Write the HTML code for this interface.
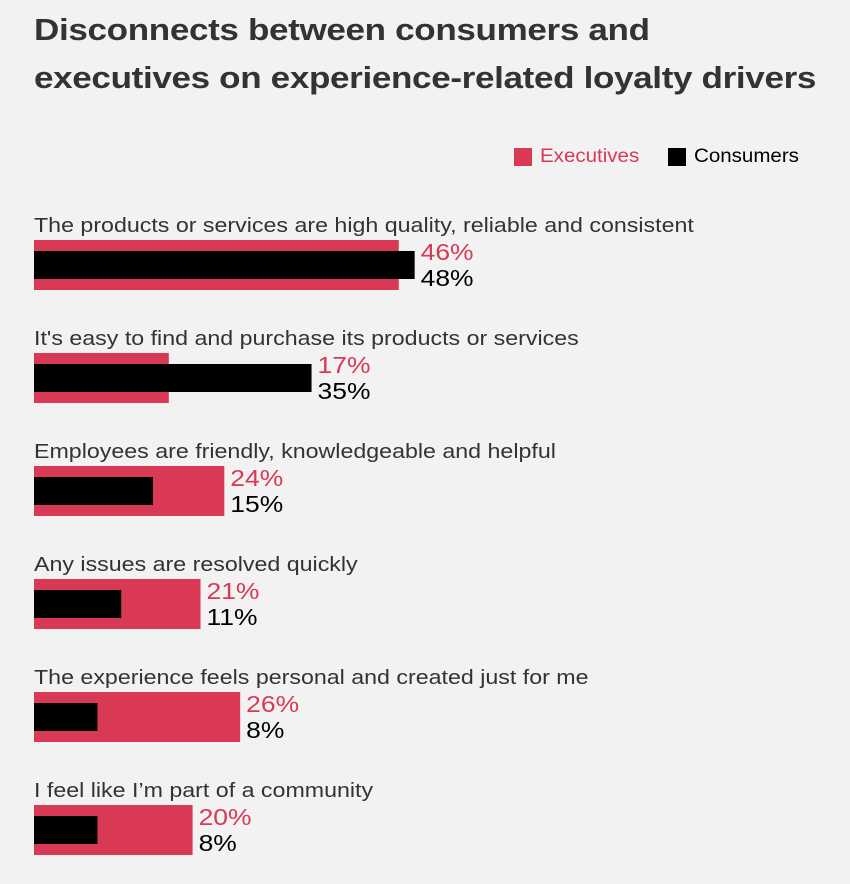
<!DOCTYPE html>
<html><head><meta charset="utf-8"><style>
body{margin:0;background:#f2f2f2;font-family:"Liberation Sans",Arial,sans-serif;}
#wrap{position:relative;width:850px;height:884px;overflow:hidden;background:#f2f2f2}
h1{position:absolute;left:34px;top:6px;margin:0;font-size:31px;line-height:48px;font-weight:bold;color:#333;letter-spacing:-0.3px;transform:scaleX(1.13);transform-origin:0 0;white-space:nowrap}
.leg{position:absolute;top:146px;font-size:19px;display:flex;align-items:center;white-space:nowrap}
.sw{width:18px;height:18px;display:inline-block;margin-right:8px}
.lt{display:inline-block;transform:scaleX(1.08);transform-origin:0 50%}
</style></head><body>
<div id="wrap">
<h1>Disconnects between consumers and<br>executives on experience-related loyalty drivers</h1>
<div class="leg" style="left:514px;color:#d93954"><span class="sw" style="background:#d93954"></span><span class="lt">Executives</span></div>
<div class="leg" style="left:668px;color:#000"><span class="sw" style="background:#000"></span><span class="lt">Consumers</span></div>
<svg id="svg" width="850" height="884" style="position:absolute;left:0;top:0"></svg>
</div>
<script>
const categories=["The products or services are high quality, reliable and consistent","It's easy to find and purchase its products or services","Employees are friendly, knowledgeable and helpful","Any issues are resolved quickly","The experience feels personal and created just for me","I feel like I\u2019m part of a community"];
const executives=[46,17,24,21,26,20];
const consumers=[48,35,15,11,8,8];
const NS="http://www.w3.org/2000/svg";
const svg=document.getElementById('svg');
const x0=34, pxPer=7.93;
function xs(v){return v*pxPer;}
function rowY(i){return 240+i*113;}
function mk(tag,attrs){const e=document.createElementNS(NS,tag);for(const k in attrs)e.setAttribute(k,attrs[k]);svg.appendChild(e);return e;}
function stretch(t,f){const w=t.getComputedTextLength();t.setAttribute('textLength',w*f);t.setAttribute('lengthAdjust','spacingAndGlyphs');}
categories.forEach((c,i)=>{
  const y=rowY(i);
  const t=mk('text',{x:x0,y:y-8,'font-size':20,fill:'#333'});t.textContent=c;
  
  
  stretch(t,1.16);
  const eb=mk('rect',{x:x0,y:y,width:xs(executives[i]),height:50,fill:'#d93954'});
  
  
  const cb=mk('rect',{x:x0,y:y+11,width:xs(consumers[i]),height:28,fill:'#000'});
  
  
  const lx=x0+Math.max(xs(executives[i]),xs(consumers[i]))+6;
  const ev=mk('text',{x:lx,y:y+20,'font-size':23,fill:'#d93954'});ev.textContent=executives[i]+'%';
  
  
  stretch(ev,1.15);
  const cv=mk('text',{x:lx,y:y+46,'font-size':23,fill:'#000'});cv.textContent=consumers[i]+'%';
  
  
  stretch(cv,1.15);
});
</script>
</body></html>
